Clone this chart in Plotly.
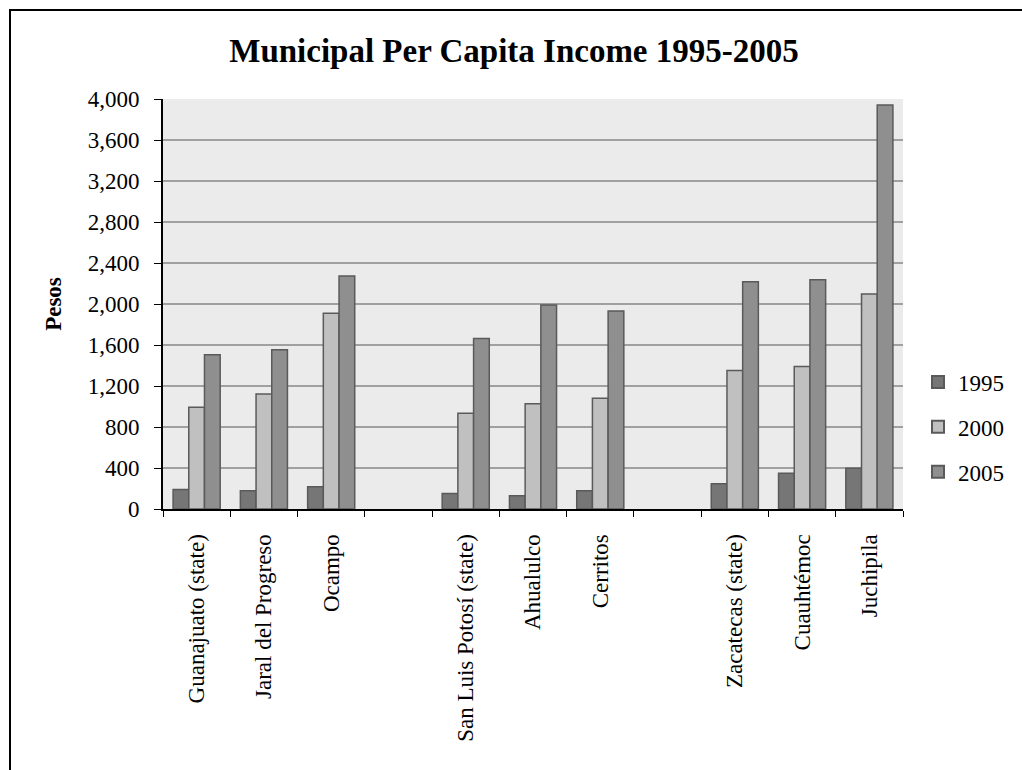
import plotly.graph_objects as go

categories = ["Guanajuato (state)", "Jaral del Progreso", "Ocampo", " ",
              "San Luis Potosí (state)", "Ahualulco", "Cerritos", "  ",
              "Zacatecas (state)", "Cuauhtémoc", "Juchipila"]
series_names = ["1995", "2000", "2005"]
v1995 = [191, 178, 217, None, 152, 129, 178, None, 246, 349, 398]
v2000 = [993, 1123, 1910, None, 935, 1026, 1081, None, 1352, 1391, 2097]
v2005 = [1505, 1553, 2272, None, 1663, 1990, 1932, None, 2216, 2236, 3941]
y_ticks = [0, 400, 800, 1200, 1600, 2000, 2400, 2800, 3200, 3600, 4000]
title_text = "Municipal Per Capita Income 1995-2005"
y_title = "Pesos"

colors = ["#767676", "#c0c0c0", "#8f8f8f"]
W, H = 1022, 770
ml, mr, mt, mb = 163, 119, 99, 261
font_family = "Liberation Serif, Times New Roman, serif"

fig = go.Figure()
for name, vals, c in zip(series_names, [v1995, v2000, v2005], colors):
    fig.add_trace(go.Bar(x=categories, y=vals, name=name, legendgroup=name,
                         marker=dict(color=c, line=dict(color="#5a5a5a", width=1.5))))

pw = W - ml - mr
ph = H - mt - mb
fig.add_shape(type="rect", xref="paper", yref="paper",
              x0=(10 - ml) / pw, x1=(W + 20 - ml) / pw,
              y0=-(H + 20 - mt - ph) / ph, y1=1 + (mt - 10) / ph,
              line=dict(color="black", width=2), layer="below")

fig.update_layout(
    width=W, height=H,
    margin=dict(l=ml, r=mr, t=mt, b=mb, pad=0),
    paper_bgcolor="white", plot_bgcolor="#ebebeb",
    font=dict(family=font_family, size=23, color="black"),
    title=dict(text="<b>" + title_text + "</b>", x=514 / W, xanchor="center",
               xref="container", y=1 - 50 / H, yanchor="middle",
               font=dict(size=33, family=font_family)),
    barmode="group", bargap=0.3, bargroupgap=0,
    showlegend=True,
    legend=dict(x=(918 - ml) / pw, xanchor="left", y=(509 - 427) / ph, yanchor="middle",
                font=dict(size=23), tracegroupgap=12, itemsizing="constant",
                itemwidth=30, borderwidth=0, bgcolor="rgba(0,0,0,0)"),
    xaxis=dict(type="category", categoryorder="array", categoryarray=categories,
               tickangle=-90, tickson="boundaries", ticks="outside", ticklen=6,
               tickcolor="black", showline=True, linecolor="black", linewidth=2,
               showgrid=False, tickfont=dict(size=23), ticklabelstandoff=14,
               fixedrange=True),
    yaxis=dict(range=[0, 4000], tickvals=y_ticks, tickformat=",d",
               ticks="outside", ticklen=7, tickcolor="black",
               showline=True, linecolor="black", linewidth=2,
               showgrid=True, gridcolor="#a0a0a0", gridwidth=2,
               zeroline=False, tickfont=dict(size=23), ticklabelstandoff=10,
               fixedrange=True,
               title=dict(text="<b>" + y_title + "</b>", font=dict(size=23), standoff=20)),
)

fig.write_html("out.html", config={"displayModeBar": False},
               post_script="document.body.style.margin='0';")
